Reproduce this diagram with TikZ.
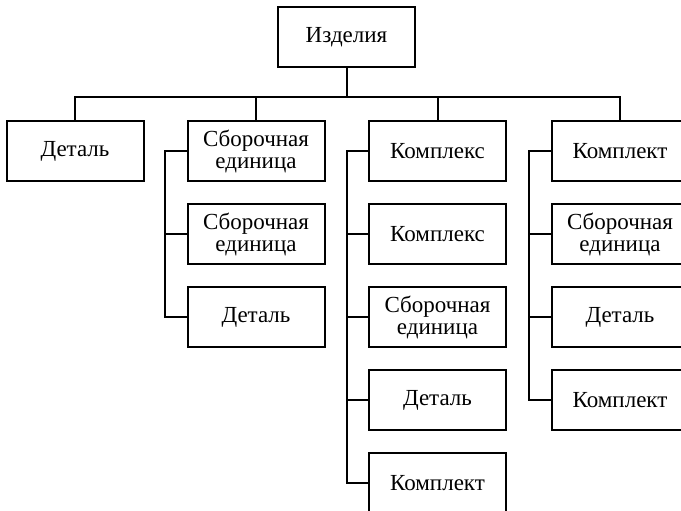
\documentclass[tikz,border=0pt]{standalone}
\usepackage{fontspec}
\setmainfont{Liberation Serif}
\begin{document}
\begin{tikzpicture}[x=1pt,y=-1pt,
  box/.style={draw,line width=2pt,minimum width=137pt,minimum height=60pt,inner sep=0pt,align=center,
    font=\fontsize{23}{22}\selectfont},
  con/.style={line width=2pt}]
\useasboundingbox (0,0) rectangle (681,511);
\clip (0,0) rectangle (681,511);
\node[box] (top) at (346.5,37) {Изделия};
% level 1
\node[box] (d1) at (75,151) {Деталь};
\node[box] (s1) at (256,151) {Сборочная\\единица};
\node[box] (k1) at (437.5,151) {Комплекс};
\node[box] (t1) at (620,151) {Комплект};
% column 2
\node[box] (s2) at (256,234) {Сборочная\\единица};
\node[box] (s3) at (256,317) {Деталь};
% column 3
\node[box] (k2) at (437.5,234) {Комплекс};
\node[box] (k3) at (437.5,317) {Сборочная\\единица};
\node[box] (k4) at (437.5,400) {Деталь};
\node[box] (k5) at (437.5,483) {Комплект};
% column 4
\node[box] (t2) at (620,234) {Сборочная\\единица};
\node[box] (t3) at (620,317) {Деталь};
\node[box] (t4) at (620,400) {Комплект};
% bus
\coordinate (bus) at (346.5,97);
\coordinate (c2) at (165,0);
\coordinate (c3) at (347,0);
\coordinate (c4) at (529,0);
\draw[con] (top.south) -- (bus);
\draw[con] (d1.north) |- (bus) -| (t1.north);
\draw[con] (s1.north) -- (s1.north |- bus);
\draw[con] (k1.north) -- (k1.north |- bus);
% brackets
\draw[con] (s1.west) -| (c2 |- s3.west) -- (s3.west);
\draw[con] (s2.west) -- (s2.west -| c2);
\draw[con] (k1.west) -| (c3 |- k5.west) -- (k5.west);
\draw[con] (k2.west) -- (k2.west -| c3);
\draw[con] (k3.west) -- (k3.west -| c3);
\draw[con] (k4.west) -- (k4.west -| c3);
\draw[con] (t1.west) -| (c4 |- t4.west) -- (t4.west);
\draw[con] (t2.west) -- (t2.west -| c4);
\draw[con] (t3.west) -- (t3.west -| c4);
\end{tikzpicture}
\end{document}
